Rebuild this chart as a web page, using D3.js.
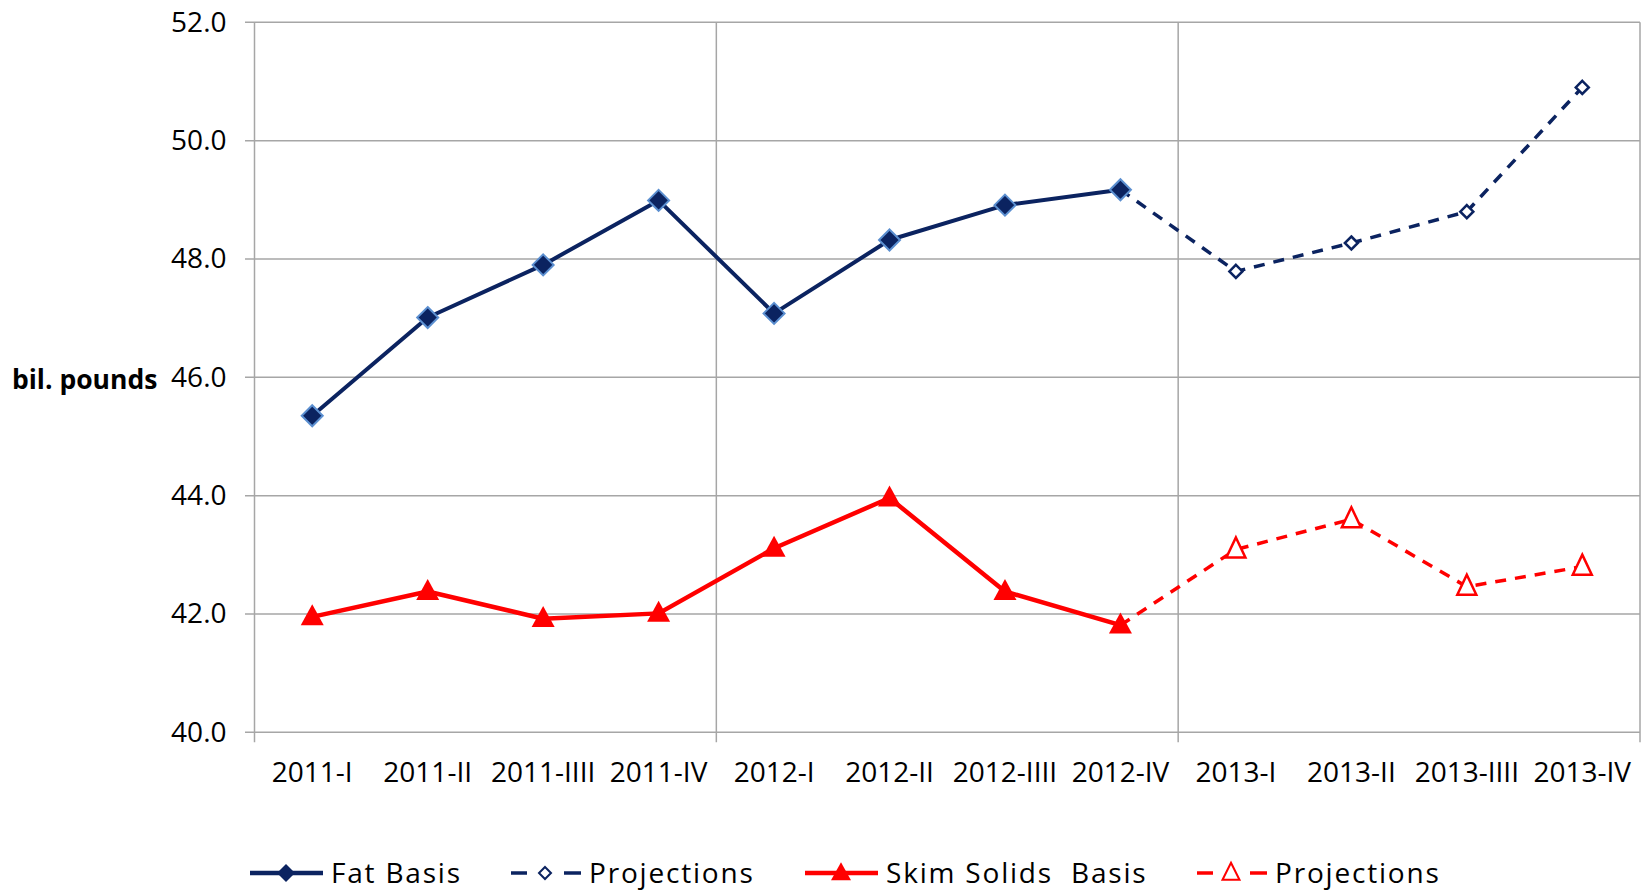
<!DOCTYPE html>
<meta charset="utf-8">
<style>
  body { margin: 0; background: #fff; }
  svg text { font-family: 'Open Sans', sans-serif; fill: #000; }
</style>
<script src="https://d3js.org/d3.v7.min.js"></script>
<div id="chart"></div>
<script>
// quarters on the x axis (labels as printed on the original)
var quarters = ["2011-I", "2011-II", "2011-IIII", "2011-IV",
                "2012-I", "2012-II", "2012-IIII", "2012-IV",
                "2013-I", "2013-II", "2013-IIII", "2013-IV"];

// bil. pounds
var fatBasis = [45.35, 47.01, 47.90, 48.99, 47.08, 48.32, 48.91, 49.17, null, null, null, null];
var fatProj  = [null, null, null, null, null, null, null, 49.17, 47.79, 48.27, 48.80, 50.90];
var skimBasis = [41.95, 42.38, 41.92, 42.01, 43.11, 43.96, 42.38, 41.81, null, null, null, null];
var skimProj  = [null, null, null, null, null, null, null, 41.81, 43.09, 43.60, 42.46, 42.80];

var yTicks = [40, 42, 44, 46, 48, 50, 52];
var legendLabels = ["Fat Basis", "Projections", "Skim Solids\u00a0 Basis", "Projections"];

var W = 1646, H = 893;
var navy = "#0b2360", red = "#ff0000", grid = "#a6a6a6";

var svg = d3.select("#chart").append("svg")
  .attr("width", W).attr("height", H);

var x = d3.scaleBand().domain(quarters).range([254.5, 1640]);
var y = d3.scaleLinear().domain([40, 52]).range([732.3, 22.3]);

// horizontal gridlines (stick out a bit left of the axis, like excel tick marks)
svg.append("g").selectAll("line")
  .data(yTicks).enter().append("line")
    .attr("x1", 245).attr("x2", 1640)
    .attr("y1", function(d) { return y(d); })
    .attr("y2", function(d) { return y(d); })
    .style("stroke", grid).style("stroke-width", 1.5);

// vertical gridlines every 4 quarters + axis line
var vlines = [0, 4, 8, 12].map(function(i) {
  return i < quarters.length ? x(quarters[i]) : x.range()[1];
});
svg.append("g").selectAll("line")
  .data(vlines).enter().append("line")
    .attr("x1", function(d) { return d; })
    .attr("x2", function(d) { return d; })
    .attr("y1", y(52)).attr("y2", y(40) + 10)
    .style("stroke", grid).style("stroke-width", 1.5);

// y axis labels
svg.append("g")
  .attr("transform", "translate(254.5,0)")
  .style("font-size", "28px")
  .call(d3.axisLeft(y).tickValues(yTicks).tickFormat(d3.format(".1f")).tickSize(0).tickPadding(28))
  .call(function(g) { g.select(".domain").remove(); })
  .selectAll("text").style("font-family", "'Open Sans', sans-serif").attr("fill", "#000");

// x axis labels
svg.append("g")
  .attr("transform", "translate(0," + y(40) + ")")
  .style("font-size", "28px")
  .call(d3.axisBottom(x).tickSize(0).tickPadding(30))
  .call(function(g) { g.select(".domain").remove(); })
  .selectAll("text").style("font-family", "'Open Sans', sans-serif").attr("fill", "#000");

svg.append("text")
  .attr("x", 12).attr("y", 389)
  .style("font-size", "26.5px").style("font-weight", "bold")
  .text("bil. pounds");

var cx = function(i) { return x(quarters[i]) + x.bandwidth() / 2; };

function drawLine(values, color, width, dash) {
  var line = d3.line()
    .defined(function(d) { return d != null; })
    .x(function(d, i) { return cx(i); })
    .y(function(d) { return y(d); });
  svg.append("path")
    .datum(values)
    .attr("d", line)
    .style("fill", "none")
    .style("stroke", color)
    .style("stroke-width", width)
    .style("stroke-dasharray", dash || null)
    .style("stroke-linejoin", "round");
}

var diamond = function(s) { return "M0," + (-s) + "L" + s + ",0L0," + s + "L" + (-s) + ",0Z"; };
var triangle = function(w, h) { return "M0," + (-h * 0.6) + "L" + (w / 2) + "," + (h * 0.4) + "L" + (-w / 2) + "," + (h * 0.4) + "Z"; };

function drawMarkers(values, path, fill, stroke, sw, skipFirst) {
  var pts = values.map(function(v, i) { return {v: v, i: i}; })
    .filter(function(d) { return d.v != null; });
  if (skipFirst) pts = pts.slice(1);
  svg.append("g").selectAll("path")
    .data(pts).enter().append("path")
      .attr("transform", function(d) { return "translate(" + cx(d.i) + "," + y(d.v) + ")"; })
      .attr("d", path)
      .style("fill", fill)
      .style("stroke", stroke)
      .style("stroke-width", sw);
}

drawLine(fatProj, navy, 3.5, "11,9");
drawLine(fatBasis, navy, 4);
drawMarkers(fatBasis, diamond(10.5), navy, "#5b8fd0", 2);
drawMarkers(fatProj, diamond(6.5), "#fff", navy, 2.5, true);

drawLine(skimProj, red, 3.5, "11,9");
drawLine(skimBasis, red, 4.5);
drawMarkers(skimBasis, triangle(23, 21), red, "none", 0);
drawMarkers(skimProj, triangle(19, 20), "#fff", red, 2.5, true);

// legend
var legendX = [250, 511, 805, 1197];
var legY = 873;
var lg = svg.append("g");
legendLabels.forEach(function(lbl, k) {
  var g = lg.append("g").attr("transform", "translate(" + legendX[k] + "," + legY + ")");
  var color = k < 2 ? navy : red;
  var dashed = k % 2 === 1;
  if (dashed) {
    g.append("line").attr("x1", 0).attr("x2", 16).attr("y1", 0).attr("y2", 0)
      .style("stroke", color).style("stroke-width", 3.5);
    g.append("line").attr("x1", 53).attr("x2", 70).attr("y1", 0).attr("y2", 0)
      .style("stroke", color).style("stroke-width", 3.5);
  } else {
    g.append("line").attr("x1", 0).attr("x2", 73).attr("y1", 0).attr("y2", 0)
      .style("stroke", color).style("stroke-width", 4.5);
  }
  var mk = k === 0 ? diamond(9) : k === 1 ? diamond(6) : k === 2 ? triangle(20, 18) : triangle(17, 17);
  g.append("path").attr("transform", "translate(" + (dashed ? 34 : 36) + ",0)")
    .attr("d", mk)
    .style("fill", dashed ? "#fff" : color)
    .style("stroke", color)
    .style("stroke-width", dashed ? 2 : 0);
  g.append("text").attr("x", dashed ? 78 : 81).attr("y", 10)
    .style("font-size", "28px")
    .style("letter-spacing", "1.8px")
    .text(lbl);
});
</script>
